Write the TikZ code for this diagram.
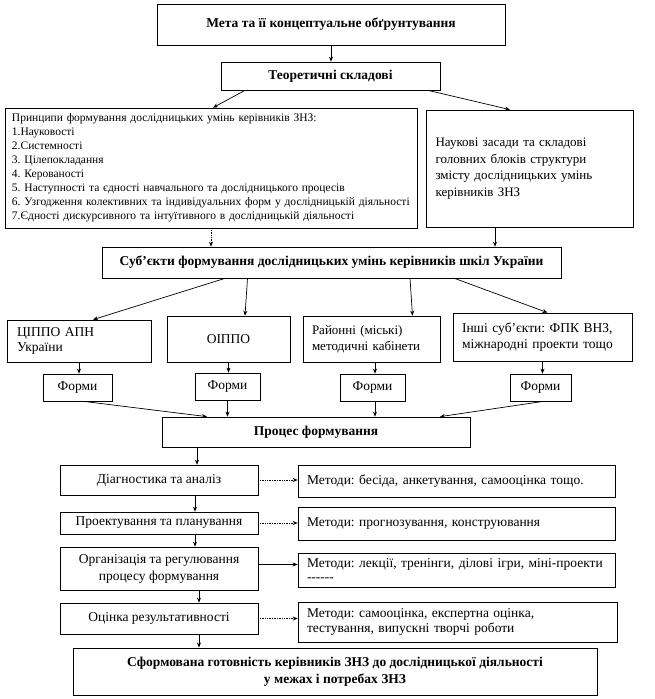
\documentclass[tikz,border=0pt]{standalone}
\usepackage{fontspec}
\setmainfont{Liberation Serif}
\usetikzlibrary{arrows.meta}
\frenchspacing
\tikzset{
  box/.style={draw=black, line width=0.7pt, inner sep=3pt, font=\frenchspacing\fontsize{13.5}{15.5}\selectfont},
  bbox/.style={box, font=\frenchspacing\bfseries\fontsize{13.5}{17}\selectfont, align=center},
  arr/.style={-{Stealth[length=5pt,width=4pt]}, line width=0.7pt},
  darr/.style={arr, densely dotted},
}
\begin{document}
\begin{tikzpicture}[x=1pt,y=-1pt]
\useasboundingbox (0,0) rectangle (654,699);
% top
\node[bbox, minimum width=348pt, minimum height=41pt, line width=1pt] (m1) at (331,24.5) {Мета та її концептуальне обґрунтування};
\node[bbox, minimum width=219pt, minimum height=28pt] (theor) at (330.5,76) {Теоретичні складові};
\node[box, minimum width=412pt, minimum height=120pt, text width=398pt, align=left, font=\frenchspacing\fontsize{11.5}{14}\selectfont] (princ) at (211,168)
 {Принципи формування дослідницьких умінь керівників ЗНЗ:\\
  1.Науковості\\
  2.Системності\\
  3. Цілепокладання\\
  4. Керованості\\
  5. Наступності та єдності навчального та дослідницького процесів\\
  6. Узгодження колективних та індивідуальних форм у дослідницькій діяльності\\
  7.Єдності дискурсивного та інтуїтивного в дослідницькій діяльності};
\node[box, minimum width=207pt, minimum height=117pt, text width=188pt, align=left, font=\frenchspacing\fontsize{13}{16.5}\selectfont] (basis) at (529.5,168.5)
 {\makebox[188pt][s]{Наукові засади та складові}\\
  \makebox[188pt][s]{головних блоків структури}\\
  \makebox[188pt][s]{змісту дослідницьких умінь}\\
  керівників ЗНЗ};
\node[bbox, minimum width=459pt, minimum height=31pt] (subj) at (331.5,262.5) {Суб'єкти формування дослідницьких умінь керівників шкіл України};
% subjects row
\node[box, minimum width=144pt, minimum height=42pt, text width=124pt, align=left] (A) at (79,341) {ЦІППО АПН\\України};
\node[box, minimum width=123pt, minimum height=46pt] (B) at (228.5,339) {ОІППО};
\node[box, minimum width=137pt, minimum height=46pt, text width=119pt, align=left, font=\frenchspacing\fontsize{13}{16}\selectfont] (C) at (371.5,339) {Районні (міські)\\методичні кабінети};
\node[box, minimum width=179pt, minimum height=48pt, text width=161pt, align=left] (D) at (542.5,337) {Інші суб’єкти: ФПК ВНЗ,\\міжнародні проекти тощо};
% forms
\node[box, minimum width=69pt, minimum height=27pt] (FA) at (77.5,387.5) {Форми};
\node[box, minimum width=65pt, minimum height=27pt] (FB) at (227.5,386.5) {Форми};
\node[box, minimum width=65pt, minimum height=27pt] (FC) at (372.5,387.5) {Форми};
\node[box, minimum width=61pt, minimum height=27pt] (FD) at (540.5,387.5) {Форми};
\node[bbox, minimum width=308pt, minimum height=30pt] (proc) at (316,432) {Процес формування};
% stages
\node[box, minimum width=198pt, minimum height=30pt] (diag) at (159,480) {Діагностика та аналіз};
\node[box, minimum width=198pt, minimum height=22pt] (proj) at (159,523) {Проектування та планування};
\node[box, minimum width=198pt, minimum height=43pt, align=center, font=\frenchspacing\fontsize{13.5}{17}\selectfont] (org) at (159,568.5) {Організація та регулювання\\процесу формування};
\node[box, minimum width=198pt, minimum height=31pt] (eval) at (159,618.5) {Оцінка результативності};
% methods
\node[box, minimum width=317pt, minimum height=32pt, text width=299pt, align=left] (M1) at (456.5,481) {Методи: бесіда, анкетування, самооцінка тощо.};
\node[box, minimum width=317pt, minimum height=33pt, text width=299pt, align=left] (M2) at (456.5,523.5) {Методи: прогнозування, конструювання};
\node[box, minimum width=317pt, minimum height=34pt, text width=299pt, align=left] (M3) at (456.5,570) {Методи: лекції, тренінги, ділові ігри, міні-проекти\\[-2pt]-{}-{}-{}-{}-{}-};
\node[box, minimum width=319pt, minimum height=40pt, text width=301pt, align=left] (M4) at (457.5,622) {Методи: самооцінка, експертна оцінка,\\тестування, випускні творчі роботи};
\node[bbox, minimum width=524pt, minimum height=47pt, line width=1pt] (final) at (335,671.5) {Сформована готовність керівників ЗНЗ до дослідницької діяльності\\у межах і потребах ЗНЗ};
% connectors
\draw[arr] (m1.south) -- (m1.south |- theor.north);
\draw[arr] ([xshift=-85.5pt]theor.south) -- ([xshift=2pt]princ.north);
\draw[arr] ([xshift=97.5pt]theor.south) -- ([xshift=-19.5pt]basis.north);
\draw[darr] (princ.south) -- (princ.south |- subj.north);
\draw[arr] ([xshift=-34.5pt]basis.south) -- ([xshift=-34.5pt]basis.south |- subj.north);
\draw[arr] ([xshift=-106.5pt]subj.south) -- ([xshift=14pt]A.north);
\draw[arr] ([xshift=-84pt]subj.south) -- ([xshift=16.5pt]B.north);
\draw[arr] ([xshift=78.5pt]subj.south) -- ([xshift=41pt]C.north);
\draw[arr] ([xshift=123pt]subj.south) -- ([xshift=5pt]D.north);
\draw[arr] (A.south) -- (A.south |- FA.north);
\draw[arr] (B.south) -- (B.south |- FB.north);
\draw[arr] ([xshift=3.5pt]C.south) -- ([xshift=3.5pt]C.south |- FC.north);
\draw[arr] (D.south) -- (D.south |- FD.north);
\draw[arr] ([xshift=6pt]FA.south) -- ([xshift=-109pt]proc.north);
\draw[arr] (FB.south) -- (FB.south |- proc.north);
\draw[arr] ([xshift=2.5pt]FC.south) -- ([xshift=2.5pt]FC.south |- proc.north);
\draw[arr] ([xshift=3pt]FD.south) -- ([xshift=124pt]proc.north);
\draw[arr] ([xshift=-119pt]proc.south) -- ([xshift=-119pt]proc.south |- diag.north);
\draw[darr] (diag.east) -- (diag.east -| M1.west);
\draw[arr] ([xshift=36pt]diag.south) -- ([xshift=36pt]diag.south |- proj.north);
\draw[darr] (proj.east) -- (proj.east -| M2.west);
\draw[arr] ([xshift=36pt]proj.south) -- ([xshift=36pt]proj.south |- org.north);
\draw[arr] ([yshift=4pt]org.east) -- ([yshift=4pt]org.east -| M3.west);
\draw[arr] ([xshift=40pt]org.south) -- ([xshift=40pt]org.south |- eval.north);
\draw[darr] (eval.east) -- (eval.east -| M4.west);
\draw[arr] ([xshift=40pt]eval.south) -- ([xshift=40pt]eval.south |- final.north);
\end{tikzpicture}
\end{document}
